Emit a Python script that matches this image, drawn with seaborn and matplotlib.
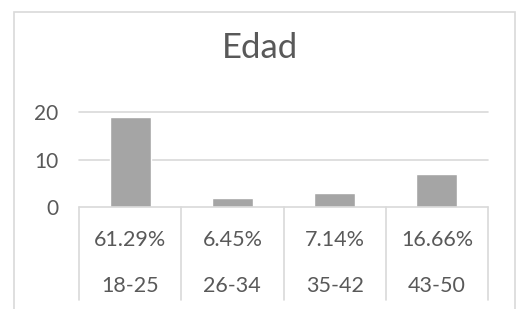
import matplotlib
matplotlib.use("Agg")
import matplotlib.pyplot as plt
import matplotlib.transforms as mtransforms
from matplotlib.patches import Rectangle
import seaborn as sns
import pandas as pd

# data
categories = ["18-25", "26-34", "35-42", "43-50"]
counts = [19, 2, 3, 7]
percent_labels = ["61.29%", "6.45%", "7.14%", "16.66%"]
yticks = [0, 10, 20]

sns.set_style("white")
plt.rcParams["font.family"] = ["Lato", "DejaVu Sans"]

text_color = "#595959"
grid_color = "#D9D9D9"
bar_color = "#A5A5A5"

df = pd.DataFrame({"Edad": categories, "n": counts})

fig = plt.figure(figsize=(5.17, 3.09), dpi=100)
W, H = 517, 309

# outer chart frame (Excel style)
fig.patches.append(Rectangle((14 / W, -0.05), (515 - 14) / W, (H - 12) / H + 0.05,
                             transform=fig.transFigure, fill=False,
                             edgecolor=grid_color, linewidth=1.2))

ax = fig.add_axes([79 / W, (H - 207) / H, (488 - 79) / W, (207 - 112) / H])
sns.barplot(data=df, x="Edad", y="n", color=bar_color, width=0.4,
            saturation=1, ax=ax)

ax.set_ylim(0, 20)
ax.set_xlim(-0.5, len(categories) - 0.5)
ax.set_yticks(yticks)
ax.set_xticks([])
ax.set_xlabel("")
ax.set_ylabel("")
ax.tick_params(axis="y", length=0, pad=15, labelsize=15, labelcolor=text_color)
for s in ax.spines.values():
    s.set_visible(False)

# gridlines
for v in yticks[1:]:
    ax.axhline(v, color=grid_color, linewidth=1.2, zorder=0, clip_on=False)

# data table under the axis
trans = mtransforms.blended_transform_factory(ax.transData, ax.transAxes)
table_bottom = (207 - 300) / 95
ax.axhline(0, color=grid_color, linewidth=1.2, clip_on=False, zorder=1)
for b in [i - 0.5 for i in range(len(categories) + 1)]:
    ax.plot([b, b], [0, table_bottom], transform=trans, color=grid_color,
            linewidth=1.2, clip_on=False)
for i, (p, c) in enumerate(zip(percent_labels, categories)):
    ax.text(i, (207 - 240) / 95, p, transform=trans, ha="center", va="center",
            fontsize=15.5, color=text_color)
    ax.text(i, (207 - 286) / 95, c, transform=trans, ha="center", va="center",
            fontsize=15.5, color=text_color)

fig.text(260 / W, (H - 48) / H, "Edad", ha="center", va="center",
         fontsize=25, color=text_color)

fig.savefig("out.png", dpi=100)
